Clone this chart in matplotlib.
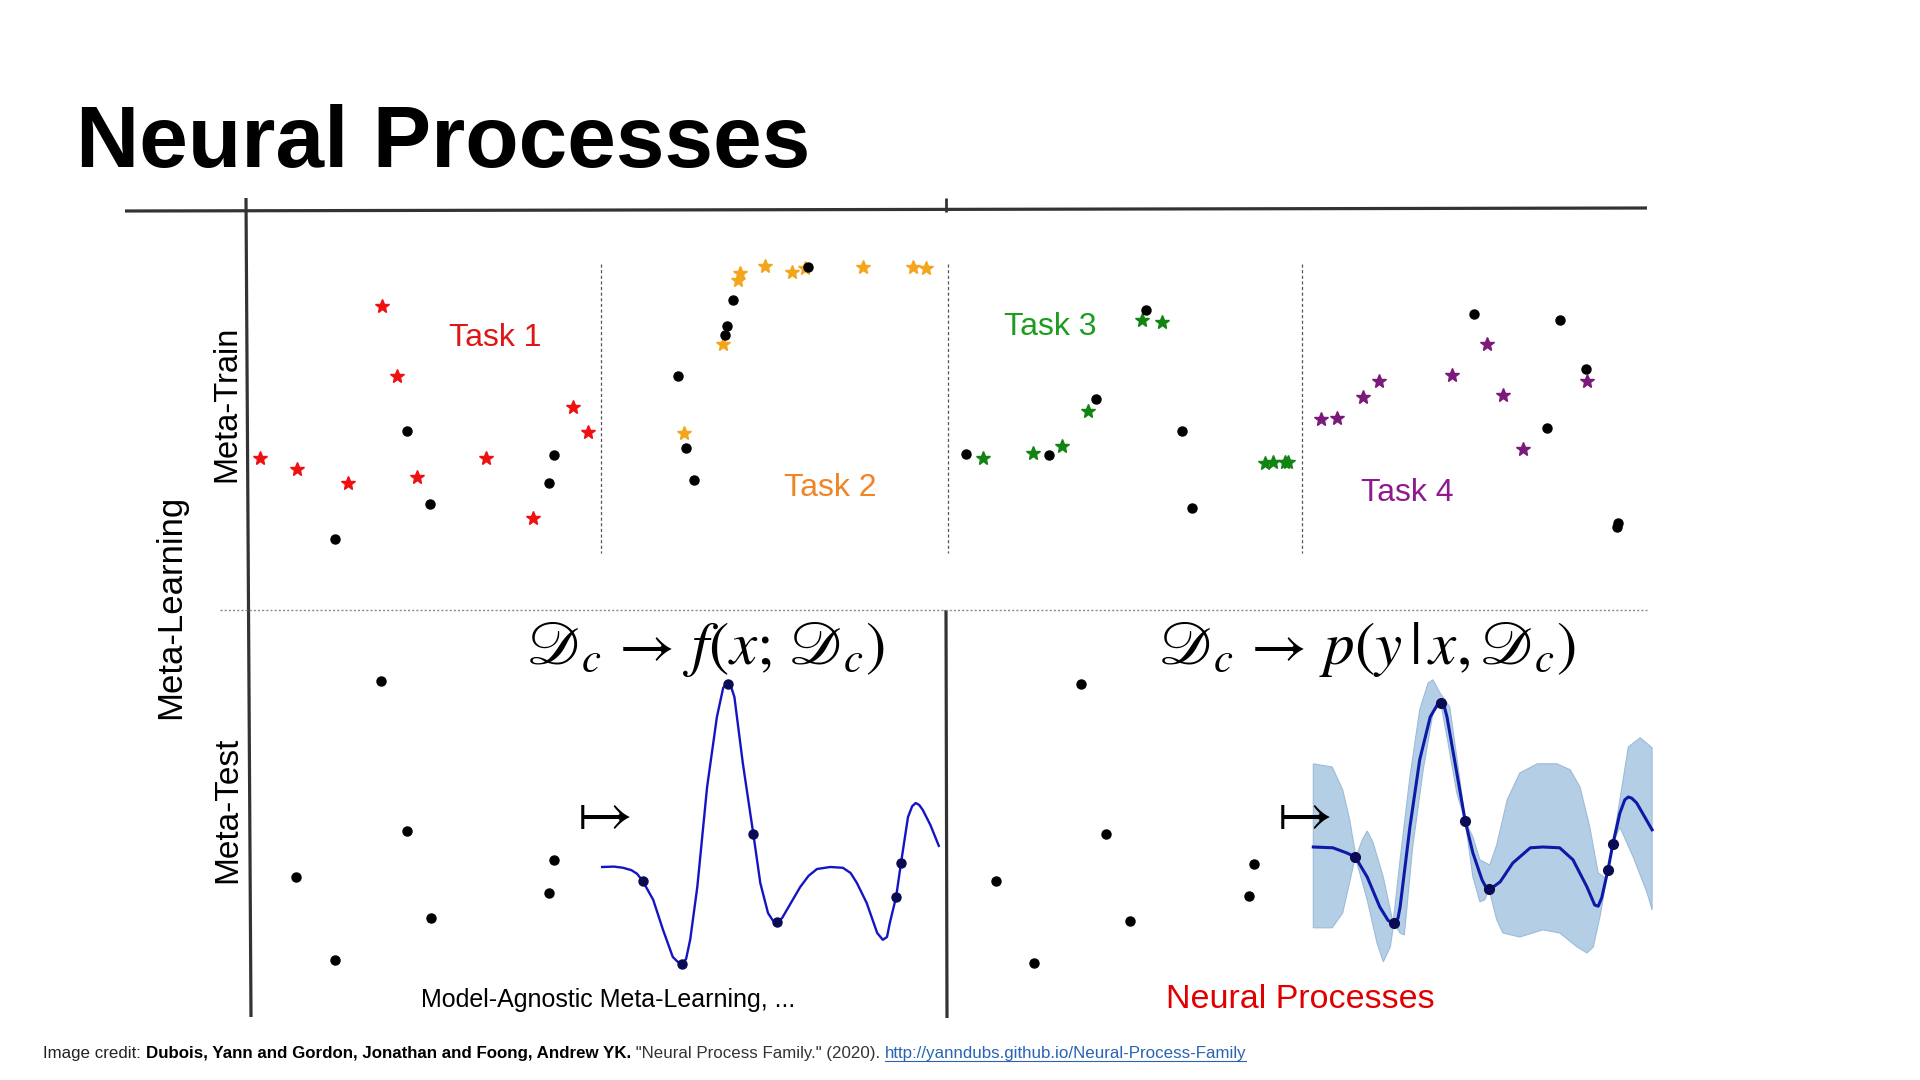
import numpy as np
import matplotlib
matplotlib.use('Agg')
import matplotlib.pyplot as plt
from matplotlib.mathtext import MathTextParser

plt.rcParams['font.family'] = ['Liberation Sans', 'DejaVu Sans']
plt.rcParams['mathtext.fontset'] = 'stix'

# ------------------------------------------------------------------ data
# Meta-train tasks (panel units 0..10): target points (stars) and context points (dots)
task1_star_x = [0.29, 1.34, 2.80, 3.77, 4.20, 4.77, 6.74, 8.09, 9.23, 9.66]
task1_star_y = [3.29, 2.94, 2.48, 8.19, 5.94, 2.68, 3.29, 1.35, 4.94, 4.13]
task1_dot_x = [2.43, 4.49, 5.14, 8.69, 8.54]
task1_dot_y = [0.68, 4.16, 1.81, 3.39, 2.48]

task2_star_x = [4.02, 3.97, 4.74, 5.52, 5.89, 7.56, 8.99, 9.37, 3.53, 2.41]
task2_star_y = [9.26, 9.03, 9.48, 9.29, 9.42, 9.45, 9.45, 9.42, 6.97, 4.10]
task2_dot_x = [5.98, 3.82, 3.65, 3.59, 2.24, 2.47, 2.70]
task2_dot_y = [9.45, 8.39, 7.55, 7.26, 5.94, 3.61, 2.58]

task3_star_x = [0.99, 2.40, 3.22, 3.95, 5.48, 6.05, 8.95, 9.18, 9.52, 9.60]
task3_star_y = [3.29, 3.45, 3.68, 4.81, 7.74, 7.68, 3.13, 3.16, 3.16, 3.16]
task3_dot_x = [0.51, 2.85, 4.18, 5.59, 6.61, 6.89]
task3_dot_y = [3.42, 3.39, 5.19, 8.06, 4.16, 1.68]

task4_star_x = [0.54, 0.99, 1.73, 2.18, 4.25, 5.24, 5.69, 6.26, 8.07]
task4_star_y = [4.55, 4.58, 5.26, 5.77, 5.97, 6.97, 5.32, 3.58, 5.77]
task4_dot_x = [4.87, 7.31, 8.05, 6.94, 8.95, 8.92]
task4_dot_y = [7.94, 7.74, 6.16, 4.26, 1.19, 1.06]

task_names = ["Task 1", "Task 2", "Task 3", "Task 4"]
task_label_x = [7.0, 6.61, 2.88, 2.97]
task_label_y = [7.16, 2.32, 7.52, 2.16]

# Meta-test: context sets
maml_ctx_x = [1.87, 2.24, 0.66, 1.21, 2.59, 4.34, 4.27]
maml_ctx_y = [8.35, 4.60, 3.45, 1.38, 2.43, 3.88, 3.05]
np_ctx_x = [1.87, 2.23, 0.66, 1.20, 2.57, 4.34, 4.27]
np_ctx_y = [8.28, 4.53, 3.35, 1.30, 2.35, 3.78, 2.98]

# MAML predicted function
maml_curve_x = [5.03, 5.20, 5.33, 5.45, 5.53, 5.61, 5.76, 5.90, 6.04, 6.11, 6.17, 6.23,
                6.29, 6.39, 6.53, 6.67, 6.76, 6.80, 6.83, 6.87, 6.92, 7.04, 7.19, 7.29,
                7.40, 7.47, 7.53, 7.60, 7.67, 7.86, 7.98, 8.10, 8.29, 8.47, 8.58, 8.67,
                8.81, 8.96, 9.04, 9.10, 9.14, 9.23, 9.30, 9.40, 9.46, 9.51, 9.56, 9.61,
                9.72, 9.84]
maml_curve_y = [3.70, 3.71, 3.68, 3.62, 3.53, 3.35, 2.88, 2.13, 1.45, 1.33, 1.28, 1.40,
                1.90, 3.20, 5.70, 7.45, 8.18, 8.27, 8.28, 8.22, 7.95, 6.30, 4.53, 3.30,
                2.55, 2.36, 2.33, 2.42, 2.63, 3.20, 3.48, 3.65, 3.70, 3.68, 3.55, 3.30,
                2.80, 2.05, 1.88, 1.95, 2.30, 2.95, 3.80, 4.95, 5.22, 5.30, 5.25, 5.13,
                4.75, 4.23]
maml_pts_x = [5.61, 6.17, 6.83, 7.19, 7.53, 9.23, 9.30]
maml_pts_y = [3.35, 1.28, 8.28, 4.53, 2.33, 2.95, 3.80]

# Neural process predictive mean and uncertainty band
np_mean_x = [5.19, 5.47, 5.67, 5.79, 5.96, 6.14, 6.26, 6.34, 6.40, 6.43, 6.57, 6.71,
             6.86, 6.96, 7.01, 7.06, 7.10, 7.24, 7.36, 7.47, 7.60, 7.66, 7.70, 7.76,
             7.86, 8.04, 8.29, 8.47, 8.71, 8.90, 9.10, 9.21, 9.26, 9.31, 9.40, 9.47,
             9.57, 9.64, 9.69, 9.74, 9.81, 10.03]
np_mean_y = [4.20, 4.18, 4.05, 3.95, 3.45, 2.70, 2.36, 2.30, 2.42, 2.70, 4.70, 6.38,
             7.45, 7.75, 7.80, 7.72, 7.45, 6.05, 4.85, 4.05, 3.38, 3.18, 3.15, 3.20,
             3.33, 3.80, 4.18, 4.20, 4.18, 3.88, 3.20, 2.75, 2.72, 2.93, 3.63, 4.28,
             5.05, 5.38, 5.45, 5.42, 5.30, 4.63]
np_upper_x = [5.19, 5.46, 5.61, 5.71, 5.80, 5.89, 5.96, 6.04, 6.19, 6.33, 6.43, 6.57,
              6.71, 6.83, 6.90, 7.00, 7.14, 7.29, 7.36, 7.47, 7.57, 7.71, 7.81, 7.96,
              8.14, 8.39, 8.67, 8.86, 9.00, 9.14, 9.26, 9.36, 9.40, 9.47, 9.57, 9.69,
              9.86, 10.03]
np_upper_y = [6.28, 6.20, 5.63, 4.88, 3.95, 4.38, 4.60, 4.33, 3.45, 2.30, 3.88, 5.95,
              7.63, 8.30, 8.38, 8.05, 7.70, 5.80, 4.85, 4.45, 3.88, 3.75, 4.25, 5.38,
              6.05, 6.28, 6.28, 6.13, 5.70, 4.70, 3.55, 3.43, 3.63, 4.28, 5.38, 6.70,
              6.93, 6.68]
np_lower_x = [5.19, 5.46, 5.61, 5.79, 5.96, 6.10, 6.19, 6.29, 6.34, 6.43, 6.49, 6.61,
              6.76, 6.90, 7.01, 7.10, 7.24, 7.36, 7.47, 7.57, 7.64, 7.70, 7.81, 7.90,
              8.14, 8.47, 8.71, 8.96, 9.10, 9.19, 9.29, 9.40, 9.47, 9.57, 9.76, 9.96,
              10.03]
np_lower_y = [2.18, 2.18, 2.55, 3.95, 2.88, 1.80, 1.33, 1.70, 2.30, 2.05, 2.00, 4.20,
              6.13, 7.55, 7.80, 6.95, 5.55, 4.85, 3.45, 2.83, 2.88, 3.15, 2.38, 2.05,
              1.95, 2.13, 2.05, 1.70, 1.55, 1.70, 2.50, 3.63, 4.28, 4.70, 3.95, 3.05,
              2.63]
np_pts_x = [5.79, 6.34, 7.01, 7.36, 7.70, 9.40, 9.47]
np_pts_y = [3.95, 2.30, 7.80, 4.85, 3.15, 3.63, 4.28]

# ------------------------------------------------------------------ figure
W, H = 1920, 1080
fig = plt.figure(figsize=(19.2, 10.8), dpi=100)
fig.patch.set_facecolor('white')

ov = fig.add_axes([0, 0, 1, 1])
ov.set_xlim(0, W)
ov.set_ylim(H, 0)
ov.axis('off')


def panel(x0, y0, x1, y1):
    a = fig.add_axes([x0 / W, 1 - y1 / H, (x1 - x0) / W, (y1 - y0) / H])
    a.set_xlim(0, 10)
    a.set_ylim(0, 10)
    a.axis('off')
    a.patch.set_alpha(0)
    return a


# choose a script D if mathtext supports \mathscr, else calligraphic
SCR = r"\mathscr"
try:
    MathTextParser('path').parse(r"$\mathscr{D}$", dpi=100)
except Exception:
    SCR = r"\mathcal"

# layout lines
ov.plot([125, 1647], [211, 208], color='#333333', lw=2.3, solid_capstyle='butt')
ov.plot([246, 251], [198, 1017], color='#333333', lw=2.3, solid_capstyle='butt')
ov.plot([946, 946], [198, 212], color='#333333', lw=2.0, solid_capstyle='butt')
ov.plot([946, 947], [610, 1018], color='#333333', lw=2.3, solid_capstyle='butt')
ov.plot([220, 1647], [610, 610], color='#888888', lw=1.0, ls=(0, (1.5, 1.5)))
for xd in [601, 948, 1302]:
    ov.plot([xd, xd], [264, 553], color='#555555', lw=0.9, ls=(0, (2.5, 2)))

# title
ov.text(76, 167, "Neural Processes", fontsize=63, fontweight='bold', va='baseline',
        ha='left', color='black')

# side labels
ov.text(227, 404, "Meta-Train", rotation=90, ha='center', va='center', fontsize=23.5)
ov.text(171, 607, "Meta-Learning", rotation=90, ha='center', va='center', fontsize=25)
ov.text(228, 810, "Meta-Test", rotation=90, ha='center', va='center', fontsize=24)

# top task panels
boxes = [(250, 600), (600, 948), (948, 1302), (1302, 1655)]
star_cols = ['#ee1111', '#f5a51c', '#128412', '#7a1a7a']
text_cols = ['#e01616', '#f08526', '#1e9c1e', '#8e1a8e']
stars = [(task1_star_x, task1_star_y), (task2_star_x, task2_star_y),
         (task3_star_x, task3_star_y), (task4_star_x, task4_star_y)]
dots = [(task1_dot_x, task1_dot_y), (task2_dot_x, task2_dot_y),
        (task3_dot_x, task3_dot_y), (task4_dot_x, task4_dot_y)]
for i, (x0, x1) in enumerate(boxes):
    a = panel(x0, 250, x1, 560)
    a.plot(stars[i][0], stars[i][1], ls='none', marker='*', ms=10,
           color=star_cols[i], mec=star_cols[i], clip_on=False)
    a.plot(dots[i][0], dots[i][1], ls='none', marker='o', ms=6.5,
           color='black', clip_on=False)
    a.text(task_label_x[i], task_label_y[i], task_names[i], color=text_cols[i],
           fontsize=23, ha='center', va='center')

# bottom-left: MAML
bl = panel(250, 615, 950, 1015)
bl.plot(maml_ctx_x, maml_ctx_y, ls='none', marker='o', ms=6.5, color='black', clip_on=False)
bl.plot(maml_curve_x, maml_curve_y, color='#1414c4', lw=1.7, clip_on=False)
bl.plot(maml_pts_x, maml_pts_y, ls='none', marker='o', ms=6.5, color='#0b0b55', clip_on=False)
f1 = r"$%s{D}_c \,\rightarrow\, f(x;\,%s{D}_c)$" % (SCR, SCR)
bl.text(6.51, 9.13, f1, fontsize=44, ha='center', va='center')
bl.text(5.0, 5.0, r"$\mapsto$", fontsize=44, ha='center', va='center')
bl.text(5.11, 0.375, "Model-Agnostic Meta-Learning, ...", fontsize=18,
        ha='center', va='center')

# bottom-right: Neural Processes
br = panel(950, 615, 1650, 1015)
br.plot(np_ctx_x, np_ctx_y, ls='none', marker='o', ms=6.5, color='black', clip_on=False)
br.text(5.0, 5.0, r"$\mapsto$", fontsize=44, ha='center', va='center')
band_x = np.concatenate([np_upper_x, np_lower_x[::-1]])
band_y = np.concatenate([np_upper_y, np_lower_y[::-1]])
br.fill(band_x, band_y, facecolor='#b4cfe5', edgecolor='#9dbbd8', lw=0.8, clip_on=False)
br.plot(np_mean_x, np_mean_y, color='#0d1aa8', lw=2.2, clip_on=False)
br.plot(np_pts_x, np_pts_y, ls='none', marker='o', ms=7, color='#0b0b55', clip_on=False)
f2 = r"$%s{D}_c \,\rightarrow\, p(y\,|\,x,%s{D}_c)$" % (SCR, SCR)
br.text(5.96, 9.13, f2, fontsize=44, ha='center', va='center')
br.text(5.0, 0.375, "Neural Processes", fontsize=24.5, color='#e00000',
        ha='center', va='center')

# footer credit line
renderer = fig.canvas.get_renderer()
pieces = [("Image credit: ", 'normal', '#222222'),
          ("Dubois, Yann and Gordon, Jonathan and Foong, Andrew YK.", 'bold', '#000000'),
          (' "Neural Process Family." (2020). ', 'normal', '#333333'),
          ("http://yanndubs.github.io/Neural-Process-Family", 'normal', '#2a64b0')]
xc = 43
for txt, wgt, col in pieces:
    t = ov.text(xc, 1058, txt, fontsize=12.2, fontweight=wgt, color=col,
                ha='left', va='baseline')
    bb = t.get_window_extent(renderer=renderer)
    if txt.startswith('http'):
        ov.plot([xc, xc + bb.width], [1061, 1061], color=col, lw=0.8)
    xc += bb.width

fig.savefig('out.png', dpi=100, facecolor='white')
